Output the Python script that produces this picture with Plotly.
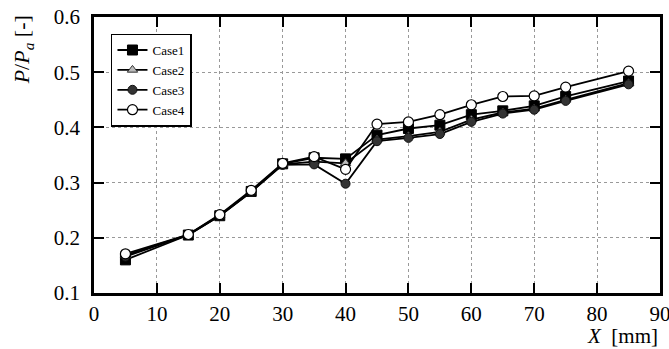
import plotly.graph_objects as go

x_mm = [5, 15, 20, 25, 30, 35, 40, 45, 50, 55, 60, 65, 70, 75, 85]
case1 = [0.160, 0.205, 0.240, 0.284, 0.334, 0.345, 0.343, 0.386, 0.398, 0.404, 0.423, 0.430, 0.439, 0.456, 0.484]
case2 = [0.168, 0.206, 0.241, 0.284, 0.333, 0.338, 0.335, 0.378, 0.384, 0.392, 0.414, 0.427, 0.434, 0.450, 0.480]
case3 = [0.166, 0.205, 0.240, 0.283, 0.332, 0.333, 0.298, 0.375, 0.381, 0.388, 0.410, 0.425, 0.432, 0.448, 0.478]
case4 = [0.171, 0.206, 0.242, 0.286, 0.335, 0.347, 0.324, 0.406, 0.410, 0.423, 0.441, 0.456, 0.457, 0.473, 0.502]

x_ticks = [0, 10, 20, 30, 40, 50, 60, 70, 80, 90]
y_ticks = [0.1, 0.2, 0.3, 0.4, 0.5, 0.6]

FONT = "Liberation Serif"

fig = go.Figure()
styles = [
    ("Case1", case1, dict(symbol="square", size=10, color="black", line=dict(color="black", width=1))),
    ("Case2", case2, dict(symbol="triangle-up", size=9, color="#bbbbbb", line=dict(color="#333333", width=1))),
    ("Case3", case3, dict(symbol="circle", size=9, color="#333333", line=dict(color="#111111", width=1))),
    ("Case4", case4, dict(symbol="circle", size=10, color="white", line=dict(color="black", width=1.2))),
]
for name, ys, mk in styles:
    fig.add_trace(go.Scatter(
        x=x_mm, y=ys, name=name, mode="lines+markers",
        line=dict(color="black", width=1.8), marker=mk,
    ))

axis_common = dict(
    showline=True, linecolor="black", linewidth=2.5, mirror="allticks",
    ticks="inside", ticklen=10, tickwidth=2, tickcolor="black",
    showgrid=True, gridcolor="#999999", gridwidth=1, griddash="dot",
    zeroline=False, automargin=False, ticklabeloverflow="allow",
    tickfont=dict(family=FONT, size=21, color="black"),
)

fig.update_xaxes(range=[0, 90], tickvals=x_ticks, ticktext=[str(v) for v in x_ticks], **axis_common)
fig.update_yaxes(range=[0.1, 0.6], tickvals=y_ticks, ticktext=[f"{v:.1f}" for v in y_ticks],
                 ticklabelstandoff=7, **axis_common)

fig.add_annotation(
    text="<i>X</i>  [mm]", xref="paper", yref="paper", x=1.0, y=-0.155,
    xanchor="right", yanchor="middle", showarrow=False,
    font=dict(family=FONT, size=21, color="black"),
)
fig.add_annotation(
    text="<i>P</i>/<i>P</i><sub><i>a</i></sub> [-]", xref="paper", yref="paper",
    x=-0.125, y=0.88, xanchor="center", yanchor="middle", textangle=-90,
    showarrow=False, font=dict(family=FONT, size=22, color="black"),
)

fig.update_layout(
    width=669, height=349,
    margin=dict(l=94, r=9, t=17, b=56),
    paper_bgcolor="white", plot_bgcolor="white",
    font=dict(family=FONT, color="black"),
    legend=dict(
        x=0.03, y=0.94, xanchor="left", yanchor="top",
        bgcolor="white", bordercolor="black", borderwidth=1.5,
        font=dict(family=FONT, size=13, color="black"),
        tracegroupgap=0, itemwidth=30,
    ),
)

fig.write_html(
    "out.html",
    config={"displayModeBar": False},
    post_script="document.body.style.margin='0';document.body.style.overflow='hidden';",
)
